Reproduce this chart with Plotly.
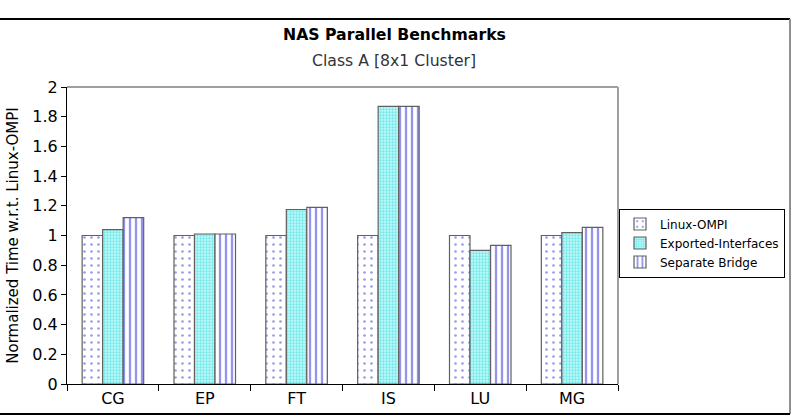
import plotly.graph_objects as go

categories = ["CG", "EP", "FT", "IS", "LU", "MG"]
linux_ompi = [1.0, 1.0, 1.0, 1.0, 1.0, 1.0]
exported_interfaces = [1.04, 1.01, 1.175, 1.87, 0.90, 1.02]
separate_bridge = [1.12, 1.01, 1.19, 1.87, 0.933, 1.055]
y_ticks = [0, 0.2, 0.4, 0.6, 0.8, 1, 1.2, 1.4, 1.6, 1.8, 2]

FONT = "DejaVu Sans"
L, R, T, B = 67, 618, 87, 384
W, H = 797, 418

fig = go.Figure()
fig.add_trace(go.Bar(
    name="Linux-OMPI", x=categories, y=linux_ompi,
    marker=dict(color="white", line=dict(color="#606060", width=1.2),
                pattern=dict(shape=".", fgcolor="#3a3ad0", bgcolor="white", size=7, solidity=0.12)),
))
fig.add_trace(go.Bar(
    name="Exported-Interfaces", x=categories, y=exported_interfaces,
    marker=dict(color="#c8f8f8", line=dict(color="#606060", width=1.2),
                pattern=dict(shape=".", fgcolor="#20d8d8", bgcolor="#c0f8f8", size=3, solidity=0.45)),
))
fig.add_trace(go.Bar(
    name="Separate Bridge", x=categories, y=separate_bridge,
    marker=dict(color="white", line=dict(color="#606060", width=1.2),
                pattern=dict(shape="|", fgcolor="#2a2ae0", bgcolor="white", size=6, solidity=0.38)),
))

def px_x(p):
    return (p - L) / (R - L)

def px_y(p):
    return (B - p) / (B - T)

shapes = [
    # plot area top/right border (gray)
    dict(type="line", xref="paper", yref="paper", x0=0, x1=1, y0=1, y1=1, line=dict(color="#a0a0a0", width=2)),
    dict(type="line", xref="paper", yref="paper", x0=1, x1=1, y0=0, y1=1, line=dict(color="#a0a0a0", width=2)),
    # outer chart border
    dict(type="line", xref="paper", yref="paper", x0=px_x(0), x1=px_x(790), y0=px_y(19), y1=px_y(19), line=dict(color="black", width=2)),
    dict(type="line", xref="paper", yref="paper", x0=px_x(790), x1=px_x(790), y0=px_y(19), y1=px_y(414), line=dict(color="#909090", width=2)),
    dict(type="line", xref="paper", yref="paper", x0=px_x(0), x1=px_x(790), y0=px_y(414), y1=px_y(414), line=dict(color="black", width=2)),
]

fig.update_layout(
    width=W, height=H,
    margin=dict(l=L, r=W - R, t=T, b=H - B, pad=0, autoexpand=False),
    paper_bgcolor="white", plot_bgcolor="white",
    font=dict(family=FONT, color="black", size=16),
    barmode="group", bargap=0.33, bargroupgap=0,
    shapes=shapes,
    annotations=[
        dict(text="<b>NAS Parallel Benchmarks</b>", xref="paper", yref="paper",
             x=px_x(394), y=px_y(35), xanchor="center", yanchor="middle", showarrow=False,
             font=dict(size=15.7, family=FONT)),
        dict(text="Class A [8x1 Cluster]", xref="paper", yref="paper",
             x=px_x(394), y=px_y(61), xanchor="center", yanchor="middle", showarrow=False,
             font=dict(size=15.7, family=FONT, color="#333")),
    ],
    xaxis=dict(showline=True, linecolor="black", linewidth=1, ticks="outside", tickson="boundaries",
               ticklen=6, tickcolor="black", showgrid=False, tickfont=dict(size=16), automargin=False),
    yaxis=dict(range=[0, 2], tickvals=y_ticks, showline=True, linecolor="black", linewidth=1,
               ticks="outside", ticklen=5, tickcolor="black", showgrid=False, zeroline=False,
               tickfont=dict(size=16), automargin=False,
               title=dict(text="Normalized Time w.r.t. Linux-OMPI", font=dict(size=15), standoff=10)),
    legend=dict(x=px_x(619), y=px_y(243), xanchor="left", yanchor="middle",
                bordercolor="black", borderwidth=1, bgcolor="white",
                font=dict(size=12), tracegroupgap=0, itemwidth=30),
)

fig.write_html("out.html")
